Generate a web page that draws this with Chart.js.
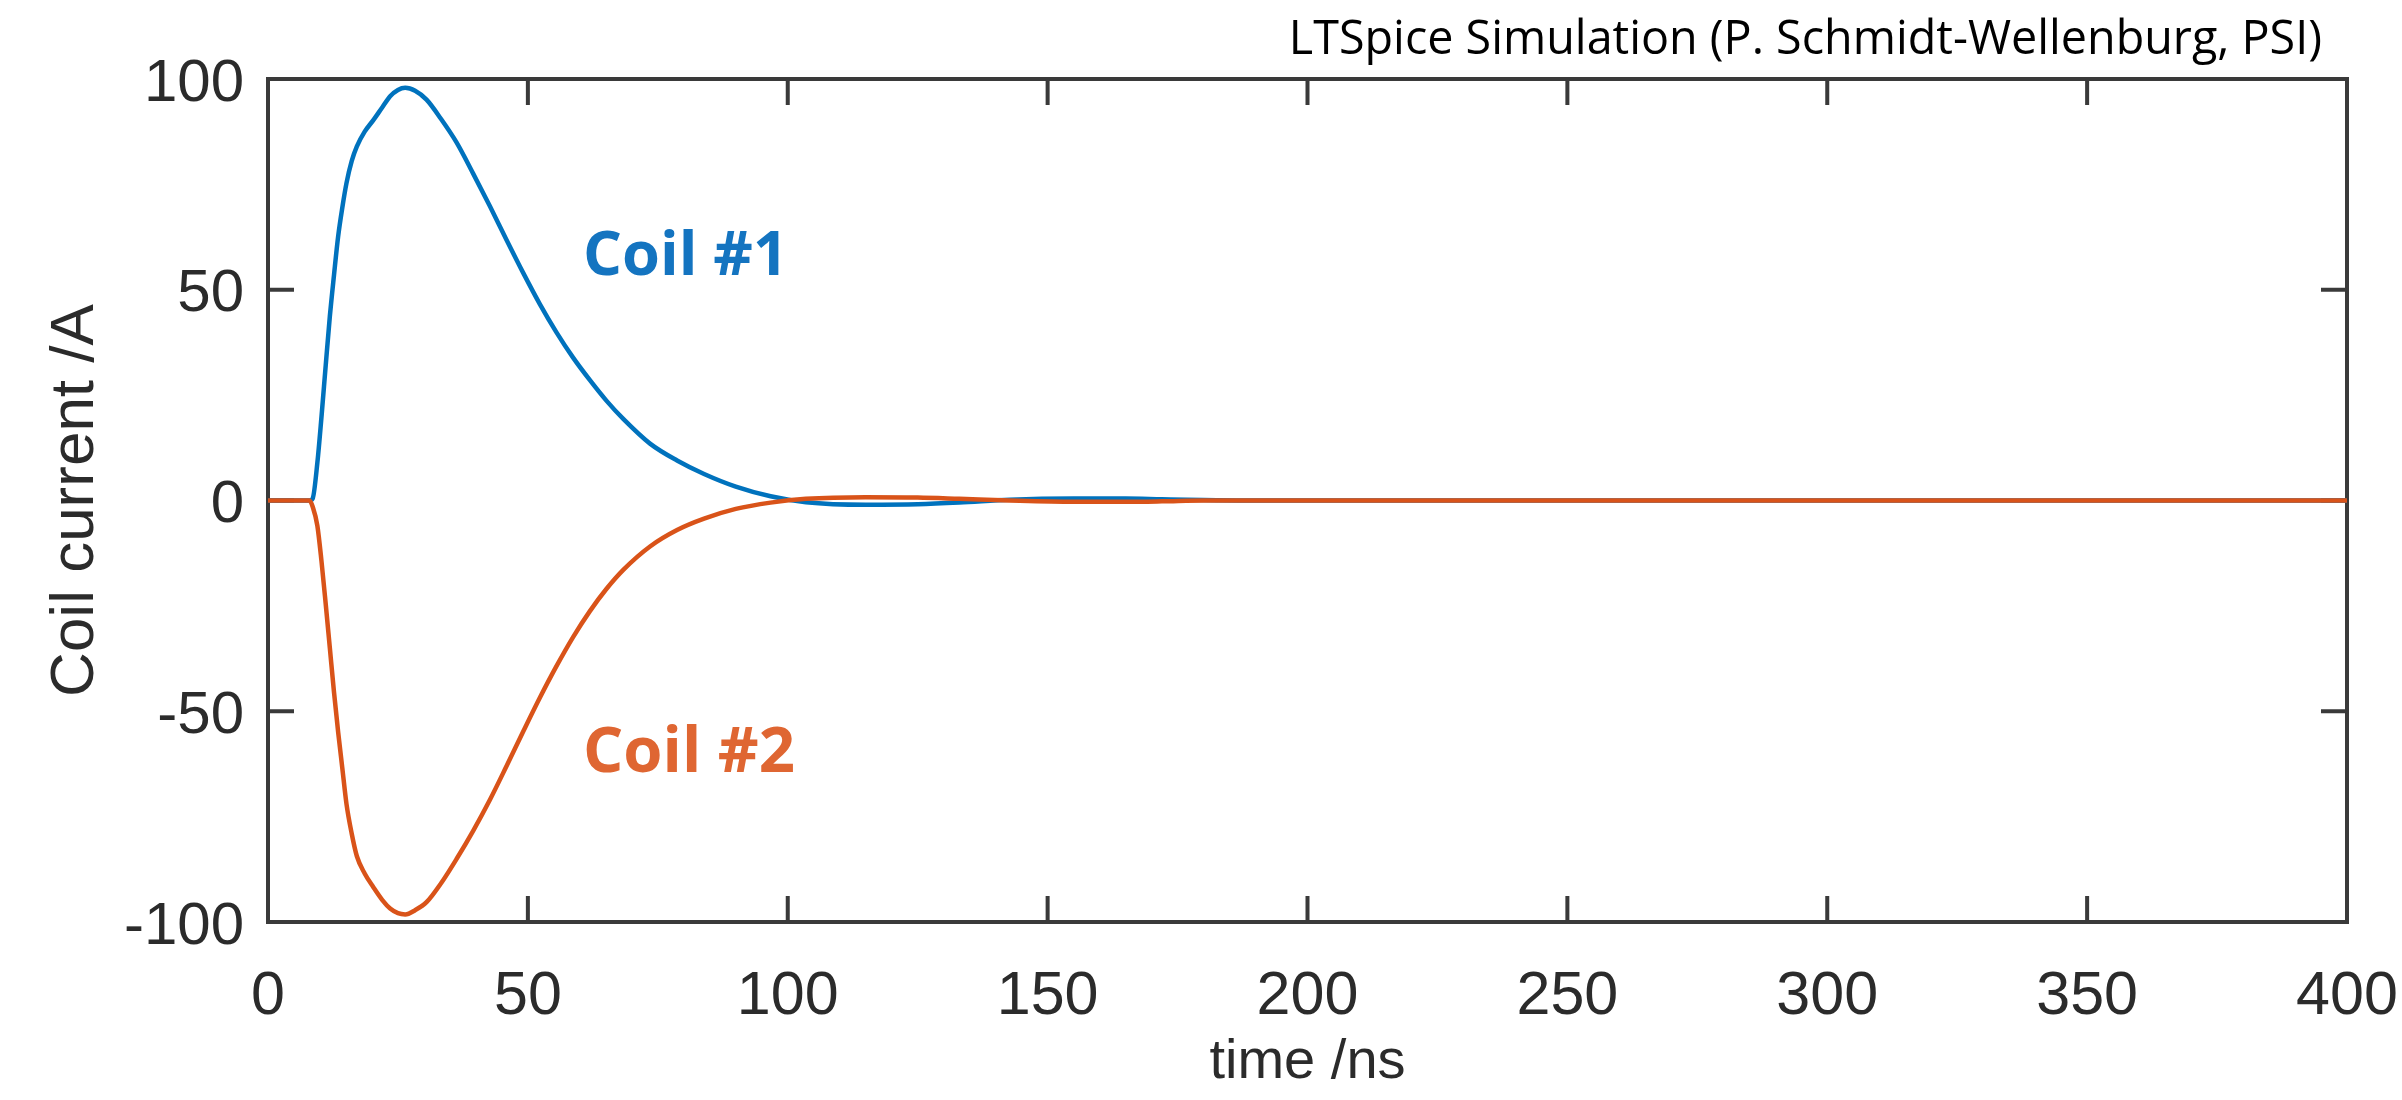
<!DOCTYPE html>
<html>
<head>
<meta charset="utf-8">
<title>Coil current</title>
<script src="https://cdn.jsdelivr.net/npm/chart.js@4"></script>
<style>
  body { margin: 0; background: #fff; }
  canvas { display: block; }
</style>
</head>
<body>
<canvas id="coilChart" width="2402" height="1100"></canvas>
<script>
// Values (time in ns, current in A)
const timeNs = [0, 8, 8.6, 9.5, 10.3, 11.1, 11.9, 12.7, 13.5, 14.3, 15.1, 16.1, 17.1, 18.6, 20.3, 22, 23.5, 25, 26.4, 28.3,
  30.5, 33.3, 36.3, 39.5, 42.7, 45.9, 49.1, 52.3, 55.5, 58.7, 61.9, 65.1, 68.4, 73.5, 78.7, 83.9, 90, 96.7, 103.5, 115,
  125, 133, 142.7, 155, 165, 172, 180, 188, 200, 250, 300, 350, 400];
const coil1 = [0, 0, 0.5, 9, 20, 32, 43.7, 53.5, 62.7, 69.5, 75.3, 80.5, 84, 87.5, 90.3, 93.3, 95.9, 97.4, 97.9, 97.2,
  95.1, 90.5, 84.9, 77.5, 69.8, 61.8, 54, 46.6, 39.9, 33.9, 28.6, 23.7, 19.3, 13.5, 9.5, 6.3, 3.3, 1.0, -0.4, -1,
  -0.9, -0.5, 0.2, 0.5, 0.5, 0.3, 0.1, 0, 0, 0, 0, 0, 0];
const coil2 = [0, 0, -1.5, -6, -14.5, -24.5, -35, -45.5, -55, -63.5, -72, -79, -84.4, -88.5, -91.8, -94.8, -96.8, -97.9, -98.2, -97.2,
  -95.3, -90.8, -85, -78.3, -71, -63, -54.8, -46.8, -39.3, -32.4, -26.3, -21, -16.4, -10.9, -7, -4.3, -2, -0.5, 0.4, 0.8,
  0.7, 0.4, 0, -0.3, -0.3, -0.2, 0, 0, 0, 0, 0, 0, 0];
const xTicks = [0, 50, 100, 150, 200, 250, 300, 350, 400];
const yTicks = [-100, -50, 0, 50, 100];
const seriesNames = ['Coil #1', 'Coil #2'];

const blue = '#0072BD';
const orange = '#D95319';
const axisColor = '#3a3a3a';
const textColor = '#2b2b2b';
const tickLen = 26;

function points(values) {
  return timeNs.map((t, i) => ({ x: t, y: values[i] }));
}

// set the font size so the text spans the given width
function fitFont(ctx, text, weight, family, width) {
  ctx.font = weight + ' 100px ' + family;
  const size = 100 * width / ctx.measureText(text).width;
  ctx.font = weight + ' ' + size.toFixed(1) + 'px ' + family;
}

// box around the plot with inward ticks on all four sides, like MATLAB
const framePlugin = {
  id: 'frame',
  beforeDatasetsDraw(chart) {
    const { ctx, chartArea: a, scales: { x, y } } = chart;
    ctx.save();
    ctx.strokeStyle = axisColor;
    ctx.lineWidth = 4;
    ctx.strokeRect(a.left, a.top, a.right - a.left, a.bottom - a.top);
    ctx.beginPath();
    xTicks.forEach(v => {
      const px = x.getPixelForValue(v);
      ctx.moveTo(px, a.bottom); ctx.lineTo(px, a.bottom - tickLen);
      ctx.moveTo(px, a.top); ctx.lineTo(px, a.top + tickLen);
    });
    yTicks.forEach(v => {
      const py = y.getPixelForValue(v);
      ctx.moveTo(a.left, py); ctx.lineTo(a.left + tickLen, py);
      ctx.moveTo(a.right, py); ctx.lineTo(a.right - tickLen, py);
    });
    ctx.stroke();
    ctx.restore();
  },
  afterDraw(chart) {
    const { ctx, scales: { x, y } } = chart;
    ctx.save();
    ctx.textBaseline = 'alphabetic';
    ctx.textAlign = 'left';
    fitFont(ctx, seriesNames[0], 'bold', '"Open Sans"', 205);
    ctx.fillStyle = '#1474C0';
    ctx.fillText(seriesNames[0], x.getPixelForValue(60.6), y.getPixelForValue(53.5));
    fitFont(ctx, seriesNames[1], 'bold', '"Open Sans"', 212);
    ctx.fillStyle = '#DF6632';
    ctx.fillText(seriesNames[1], x.getPixelForValue(60.6), y.getPixelForValue(-64.3));
    // credit line, top right
    const credit = 'LTSpice Simulation (P. Schmidt-Wellenburg, PSI)';
    ctx.fillStyle = '#000';
    ctx.textAlign = 'right';
    fitFont(ctx, credit, 'normal', '"Open Sans"', 1034);
    ctx.fillText(credit, 2322, 54);
    ctx.restore();
  }
};

new Chart(document.getElementById('coilChart'), {
  type: 'line',
  data: {
    datasets: [{
      label: seriesNames[0],
      data: points(coil1),
      borderColor: blue,
      borderWidth: 4.5,
      pointRadius: 0,
      cubicInterpolationMode: 'monotone',
      order: 1
    }, {
      label: seriesNames[1],
      data: points(coil2),
      borderColor: orange,
      borderWidth: 4.5,
      pointRadius: 0,
      cubicInterpolationMode: 'monotone',
      order: 0
    }]
  },
  options: {
    responsive: false,
    animation: false,
    layout: { padding: { top: 79, right: 55, left: 0, bottom: 0 } },
    plugins: {
      legend: { display: false },
      tooltip: { enabled: false }
    },
    scales: {
      x: {
        type: 'linear',
        min: 0,
        max: 400,
        afterFit: s => { s.height = 178; s.paddingLeft = 0; s.paddingRight = 0; },
        afterBuildTicks: s => { s.ticks = xTicks.map(v => ({ value: v })); },
        grid: { display: false },
        border: { display: false },
        ticks: {
          color: textColor,
          font: { family: 'Liberation Sans', size: 61 },
          padding: 31,
          maxRotation: 0
        },
        title: {
          display: true,
          text: 'time /ns',
          color: textColor,
          font: { family: 'Liberation Sans', size: 56, lineHeight: 0.9 },
          padding: { top: 0, bottom: 12 }
        }
      },
      y: {
        min: -100,
        max: 100,
        afterFit: s => { s.width = 268; s.paddingTop = 0; s.paddingBottom = 0; },
        afterBuildTicks: s => { s.ticks = yTicks.map(v => ({ value: v })); },
        grid: { display: false },
        border: { display: false },
        ticks: {
          color: textColor,
          font: { family: 'Liberation Sans', size: 60 },
          padding: 16,
          labelOffset: 5
        },
        title: {
          display: true,
          text: 'Coil current /A',
          color: textColor,
          font: { family: 'Liberation Sans', size: 62, lineHeight: 1.2 },
          padding: { top: 39, bottom: 0 }
        }
      }
    }
  },
  plugins: [framePlugin]
});
</script>
</body>
</html>
